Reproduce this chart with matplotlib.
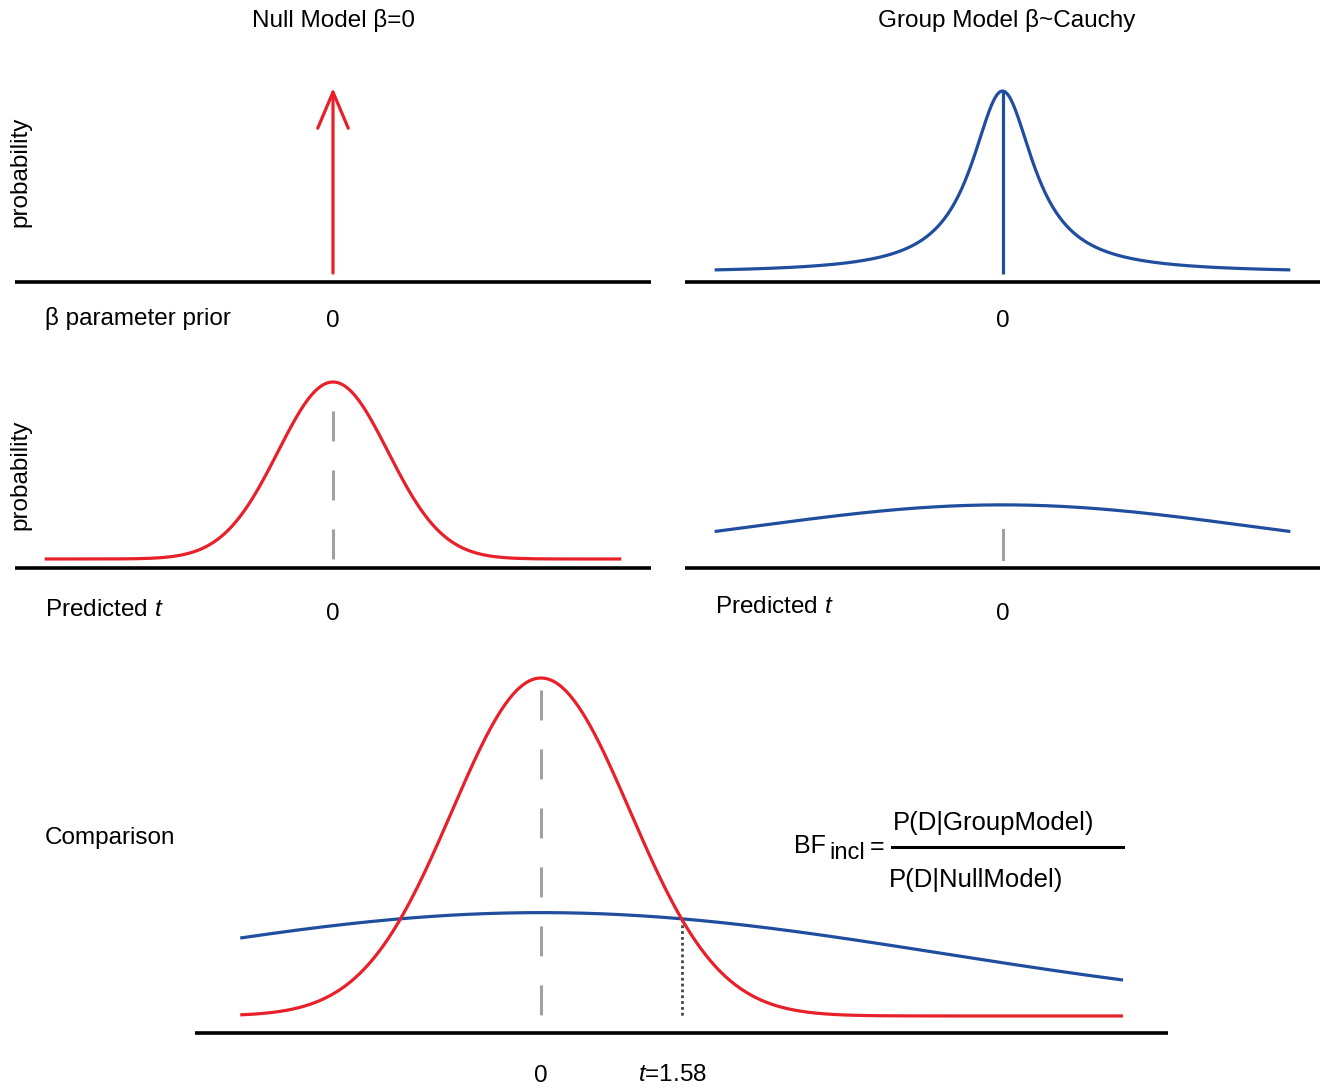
import numpy as np
import matplotlib
matplotlib.use("Agg")
from matplotlib import pyplot as plt

plt.rcParams['font.family'] = ['Liberation Sans', 'DejaVu Sans']
plt.rcParams['mathtext.fontset'] = 'custom'
plt.rcParams['mathtext.rm'] = 'Liberation Sans'
plt.rcParams['mathtext.it'] = 'Liberation Sans:italic'

W, H = 1327, 1088

# --- values (t / beta units, density units) ---
titles = ["Null Model \u03b2=0", "Group Model \u03b2~Cauchy"]
ylabel = "probability"
row_labels = ["\u03b2 parameter prior", "Predicted $t$", "Comparison"]
upper_range = [-5.24, 5.24]      # extent of the curves in the upper panels
bottom_range = [-3.38, 6.54]     # extent of the curves in the comparison panel
null_sd = 1.0                    # predicted t under the null model
group_sd = 4.5                   # predicted t under the group model
group_peak = 0.122
cauchy_scale = 0.69              # beta prior of the group model
spike_height = 0.469             # point mass at beta = 0 (arrow)
observed_t = 1.58
null_dash_top = [0.333, 0.385]   # gray dashed markers (middle, bottom)
group_dash_top = 0.065

RED = '#e8202a'
BLUE = '#1f4e9e'
GRAY = '#a0a0a0'
FS = 17.5


def null_pdf(x):
    return np.exp(-0.5 * (x / null_sd) ** 2) / (null_sd * np.sqrt(2 * np.pi))


def group_pdf(x):
    return group_peak * np.exp(-0.5 * (x / group_sd) ** 2)


def cauchy_pdf(x):
    return 1.0 / (np.pi * cauchy_scale * (1 + (x / cauchy_scale) ** 2))


def panel(x0, x1, ytop, ybot, xlim, ylim, zero_pad):
    # axes placed by pixel box, only the bottom spine is kept
    ax = fig.add_axes([x0 / W, 1 - ybot / H, (x1 - x0) / W, (ybot - ytop) / H])
    ax.set_xlim(xlim)
    ax.set_ylim(ylim)
    for s in ['top', 'left', 'right']:
        ax.spines[s].set_visible(False)
    ax.spines['bottom'].set_linewidth(2.6)
    ax.spines['bottom'].set_capstyle('butt')
    ax.set_yticks([])
    ax.set_xticks([0])
    ax.set_xticklabels(['0'], fontsize=FS)
    ax.tick_params(axis='x', length=0, pad=zero_pad)
    ax.patch.set_alpha(0)
    return ax


fig = plt.figure(figsize=(W / 100, H / 100), dpi=100)

up = np.linspace(upper_range[0], upper_range[1], 500)
lo = np.linspace(bottom_range[0], bottom_range[1], 700)

# top row: beta priors
ax_tl = panel(15, 651, 60, 282, (-5.78, 5.78), (-0.0228, 0.540), 20)
ax_tl.annotate('', xy=(0, spike_height), xytext=(0, 0),
               arrowprops=dict(arrowstyle='->,head_length=26,head_width=11',
                               color=RED, lw=2.3, mutation_scale=1,
                               shrinkA=0, shrinkB=0))

ax_tr = panel(685, 1320, 60, 282, (-5.78, 5.78), (-0.0228, 0.540), 20)
ax_tr.plot(up, cauchy_pdf(up), color=BLUE, lw=2.3, solid_capstyle='butt')
ax_tr.plot([0, 0], [-0.003, cauchy_pdf(0)], color=BLUE, lw=2.3, solid_capstyle='butt')

# middle row: predicted t
ax_ml = panel(15, 651, 360, 568, (-5.78, 5.78), (-0.0203, 0.4485), 25)
ax_ml.plot([0, 0], [null_dash_top[0], 0], color=GRAY, lw=2.2, dashes=(9.8, 9.5))
ax_ml.plot(up, null_pdf(up), color=RED, lw=2.3, solid_capstyle='butt')

ax_mr = panel(685, 1320, 360, 568, (-5.78, 5.78), (-0.0203, 0.4485), 25)
ax_mr.plot([0, 0], [group_dash_top, 0], color=GRAY, lw=2.2)
ax_mr.plot(up, group_pdf(up), color=BLUE, lw=2.3, solid_capstyle='butt')

# bottom row: comparison
ax_b = panel(195, 1168, 650, 1033, (-3.888, 7.045), (-0.0201, 0.432), 23)
ax_b.plot([0, 0], [null_dash_top[1], 0], color=GRAY, lw=2.2, dashes=(9.8, 9.5))
ax_b.plot([observed_t, observed_t], [null_pdf(observed_t), 0], color='#454545',
          lw=2.0, linestyle=(0, (1, 1.1)))
ax_b.plot(lo, group_pdf(lo), color=BLUE, lw=2.3, solid_capstyle='butt')
ax_b.plot(lo, null_pdf(lo), color=RED, lw=2.3, solid_capstyle='butt')
ax_b.annotate('$t$=1.58', xy=(observed_t, -0.0201), xytext=(-9, -42),
              textcoords='offset pixels', ha='center', va='center', fontsize=FS)

# text around the panels
def ftext(x, y, s, **kw):
    fig.text(x / W, 1 - y / H, s, fontsize=kw.pop('fontsize', FS), **kw)

ftext(333, 20, titles[0], ha='center', va='center')
ftext(1007, 20, titles[1], ha='center', va='center')
ftext(20, 172, ylabel, rotation=90, ha='center', va='center')
ftext(20, 475, ylabel, rotation=90, ha='center', va='center')
ftext(45, 319, row_labels[0], ha='left', va='center')
ftext(45, 610, row_labels[1], ha='left', va='center')
ftext(715, 607, row_labels[1], ha='left', va='center')
ftext(45, 838, row_labels[2], ha='left', va='center')

# Bayes factor formula
ftext(794, 846, 'BF', ha='left', va='center', fontsize=18)
ftext(829, 853, 'incl', ha='left', va='center', fontsize=17)
ftext(877, 847, '=', ha='center', va='center', fontsize=18)
fig.add_artist(plt.Line2D([892 / W, 1123 / W], [1 - 847 / H, 1 - 847 / H],
                          color='black', lw=2.2))
ftext(994, 823, 'P(D|GroupModel)', ha='center', va='center', fontsize=18.5)
ftext(976, 880, 'P(D|NullModel)', ha='center', va='center', fontsize=18.5)

fig.savefig('out.png', dpi=100)
